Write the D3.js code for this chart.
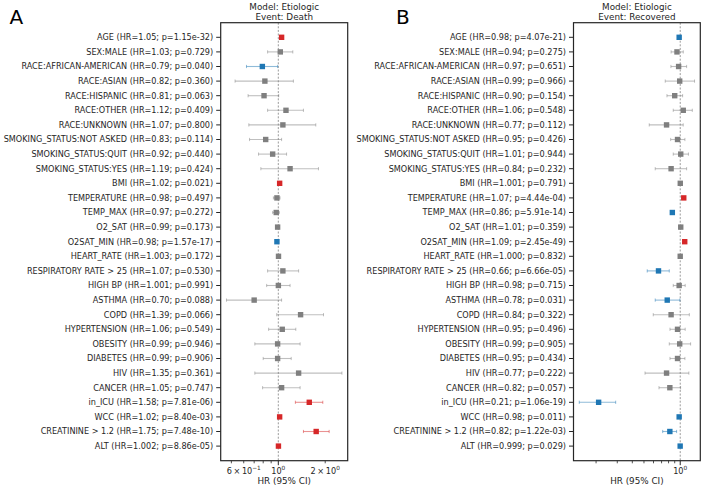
<!DOCTYPE html>
<html><head><meta charset="utf-8">
<script src="https://cdn.jsdelivr.net/npm/d3@7"></script>
<style>
html,body{margin:0;padding:0;background:#fff;}
text{font-family:"DejaVu Sans",sans-serif;fill:#262626;}
</style></head>
<body><svg id="c" width="704" height="488"></svg>
<script>
// ---------- DATA ----------
const variables = ["AGE","SEX:MALE","RACE:AFRICAN-AMERICAN","RACE:ASIAN","RACE:HISPANIC","RACE:OTHER","RACE:UNKNOWN",
 "SMOKING_STATUS:NOT ASKED","SMOKING_STATUS:QUIT","SMOKING_STATUS:YES","BMI","TEMPERATURE","TEMP_MAX","O2_SAT","O2SAT_MIN",
 "HEART_RATE","RESPIRATORY RATE > 25","HIGH BP","ASTHMA","COPD","HYPERTENSION","OBESITY","DIABETES","HIV","CANCER",
 "in_ICU","WCC","CREATININE > 1.2","ALT"];

// Panel A: Event Death
const hrA = ["1.05","1.03","0.79","0.82","0.81","1.12","1.07","0.83","0.92","1.19","1.02","0.98","0.97","0.99","0.98",
 "1.003","1.07","1.001","0.70","1.39","1.06","0.99","0.99","1.35","1.05","1.58","1.02","1.75","1.002"];
const pA = ["1.15e-32","0.729","0.040","0.360","0.063","0.409","0.800","0.114","0.440","0.424","0.021","0.497","0.272","0.173","1.57e-17",
 "0.172","0.530","0.991","0.088","0.066","0.549","0.946","0.906","0.361","0.747","7.81e-06","8.40e-03","7.48e-10","8.86e-05"];
const loA = [1.04,0.854,0.625,0.528,0.640,0.854,0.647,0.654,0.747,0.773,1.005,0.93,0.92,0.975,0.975,
 0.999,0.854,0.842,0.465,0.977,0.867,0.707,0.80,0.707,0.793,1.287,1.005,1.45,1.001];
const hiA = [1.06,1.239,0.99,1.25,1.006,1.45,1.74,1.05,1.13,1.81,1.035,1.026,1.015,1.005,0.985,
 1.007,1.35,1.19,1.05,1.95,1.295,1.38,1.21,2.56,1.38,1.93,1.035,2.12,1.003];

// Panel B: Event Recovered
const hrB = ["0.98","0.94","0.97","0.99","0.90","1.06","0.77","0.95","1.01","0.84","1.001","1.07","0.86","1.01","1.09",
 "1.000","0.66","0.98","0.78","0.84","0.95","0.99","0.95","0.77","0.82","0.21","0.98","0.82","0.999"];
const pB = ["4.07e-21","0.275","0.651","0.966","0.154","0.548","0.112","0.426","0.944","0.232","0.791","4.44e-04","5.91e-14","0.359","2.45e-49",
 "0.832","6.66e-05","0.715","0.031","0.322","0.496","0.905","0.434","0.222","0.057","1.06e-19","0.011","1.22e-03","0.029"];
const loB = [0.977,0.84,0.837,0.751,0.776,0.875,0.553,0.833,0.875,0.62,0.99,1.035,0.835,0.99,1.08,
 0.995,0.532,0.875,0.62,0.597,0.822,0.811,0.822,0.51,0.666,0.145,0.965,0.715,0.998];
const hiB = [0.983,1.06,1.13,1.315,1.047,1.26,1.059,1.094,1.17,1.13,1.012,1.105,0.885,1.03,1.10,
 1.005,0.811,1.10,0.994,1.19,1.10,1.22,1.094,1.18,1.007,0.291,0.995,0.933,1.0005];

const majorTicksA = [1];
const minorTicksA = [0.5,0.6,0.7,0.8,0.9,2];
const labeledMinorA = [0.6,2];
const majorTicksB = [1];
const minorTicksB = [0.2,0.3,0.4,0.5,0.6,0.7,0.8,0.9];
const labeledMinorB = [];

const titleLine1 = "Model: Etiologic";
const eventA = "Event: Death", eventB = "Event: Recovered";
const xLabel = "HR (95% CI)";

// ---------- DRAW ----------
const svg = d3.select("#c");
const RED="#d62728", BLUE="#1f77b4", GRAY="#7f7f7f";
const yTop=22.7, yBot=460.7;

function panel(opt){
  const {x0,x1,hr,p,lo,hi,major,minor,labeled,letter,letterX,event} = opt;
  const g = svg.append("g");
  const lmin = d3.min(lo, v=>Math.log10(v)), lmax = d3.max(hi, v=>Math.log10(v));
  const pad = (lmax-lmin)*0.05;
  const x = d3.scaleLog().domain([Math.pow(10,lmin-pad), Math.pow(10,lmax+pad)]).range([x0,x1]);
  const y = d3.scaleLinear().domain([-1, variables.length]).range([yTop,yBot]);
  const rows = variables.map((v,i)=>({v, hr:+hr[i], hs:hr[i], p:p[i], pv:+p[i], lo:lo[i], hi:hi[i], i}));
  const col = d=> d.pv<0.05 ? (d.hr>1?RED:BLUE) : GRAY;

  // reference line
  g.append("line").attr("x1",x(1)).attr("x2",x(1)).attr("y1",yTop).attr("y2",yBot)
   .attr("stroke","#9a9a9a").attr("stroke-width",1).attr("stroke-dasharray","2,1.6");

  // error bars
  const eb = g.append("g").selectAll("g").data(rows).join("g");
  eb.append("line").attr("x1",d=>x(d.lo)).attr("x2",d=>x(d.hi)).attr("y1",d=>y(d.i)).attr("y2",d=>y(d.i))
    .attr("stroke",col).attr("stroke-opacity",0.5).attr("stroke-width",1.1);
  [d=>x(d.lo), d=>x(d.hi)].forEach(f=>{
    eb.append("line").attr("x1",f).attr("x2",f).attr("y1",d=>y(d.i)-1.6).attr("y2",d=>y(d.i)+1.6)
      .attr("stroke",col).attr("stroke-opacity",0.5).attr("stroke-width",1);
  });
  // markers
  const s=5.4;
  g.append("g").selectAll("rect").data(rows).join("rect")
    .attr("x",d=>x(d.hr)-s/2).attr("y",d=>y(d.i)-s/2).attr("width",s).attr("height",s).attr("fill",col);

  // y axis ticks and labels
  const ya = g.append("g");
  ya.selectAll("line").data(rows).join("line").attr("x1",x0-4.5).attr("x2",x0).attr("y1",d=>y(d.i)).attr("y2",d=>y(d.i))
    .attr("stroke","#262626").attr("stroke-width",1);
  ya.selectAll("text").data(rows).join("text").attr("x",x0-7.5).attr("y",d=>y(d.i)).attr("dy","0.35em")
    .attr("text-anchor","end").style("font-size","8.15px")
    .text(d=>`${d.v} (HR=${d.hs}; p=${d.p})`);

  // x axis ticks
  const xa = g.append("g");
  xa.selectAll("line.mj").data(major).join("line").attr("class","mj").attr("x1",d=>x(d)).attr("x2",d=>x(d)).attr("y1",yBot).attr("y2",yBot+4.5)
    .attr("stroke","#262626").attr("stroke-width",1);
  xa.selectAll("line.mn").data(minor).join("line").attr("class","mn").attr("x1",d=>x(d)).attr("x2",d=>x(d)).attr("y1",yBot).attr("y2",yBot+2.6)
    .attr("stroke","#262626").attr("stroke-width",0.8);
  const tl = major.map(v=>({v, m:null, e:Math.round(Math.log10(v))})).concat(labeled.map(v=>{
    const e=Math.floor(Math.log10(v)+1e-9); return {v, m:Math.round(v/Math.pow(10,e)), e};}));
  tl.forEach(t=>{
    const tx = xa.append("text").attr("x",x(t.v)).attr("y",473.5).attr("text-anchor","middle").style("font-size","8.15px");
    tx.append("tspan").text(t.m===null ? "10" : `${t.m}\u2009\u00d7\u200910`);
    tx.append("tspan").attr("dy","-3.6").style("font-size","5.8px").text(t.e<0 ? "\u2212"+(-t.e) : String(t.e));
  });
  // xlabel
  g.append("text").attr("x",(x0+x1)/2).attr("y",483.5).attr("text-anchor","middle").style("font-size","8.8px").text(xLabel);
  // title
  g.append("text").attr("x",(x0+x1)/2).attr("y",10).attr("text-anchor","middle").style("font-size","8.8px").text(titleLine1);
  g.append("text").attr("x",(x0+x1)/2).attr("y",19.8).attr("text-anchor","middle").style("font-size","8.8px").text(event);
  // frame
  g.append("rect").attr("x",x0).attr("y",yTop).attr("width",x1-x0).attr("height",yBot-yTop)
    .attr("fill","none").attr("stroke","#262626").attr("stroke-width",1.2);
  // letter
  svg.append("text").attr("x",letterX).attr("y",23.5).style("font-size","20px").style("fill","#000").text(letter);
}

panel({x0:220.7,x1:347.7,hr:hrA,p:pA,lo:loA,hi:hiA,major:majorTicksA,minor:minorTicksA,labeled:labeledMinorA,letter:"A",letterX:9.5,event:eventA});
panel({x0:573.5,x1:700.3,hr:hrB,p:pB,lo:loB,hi:hiB,major:majorTicksB,minor:minorTicksB,labeled:labeledMinorB,letter:"B",letterX:396,event:eventB});
</script></body></html>
